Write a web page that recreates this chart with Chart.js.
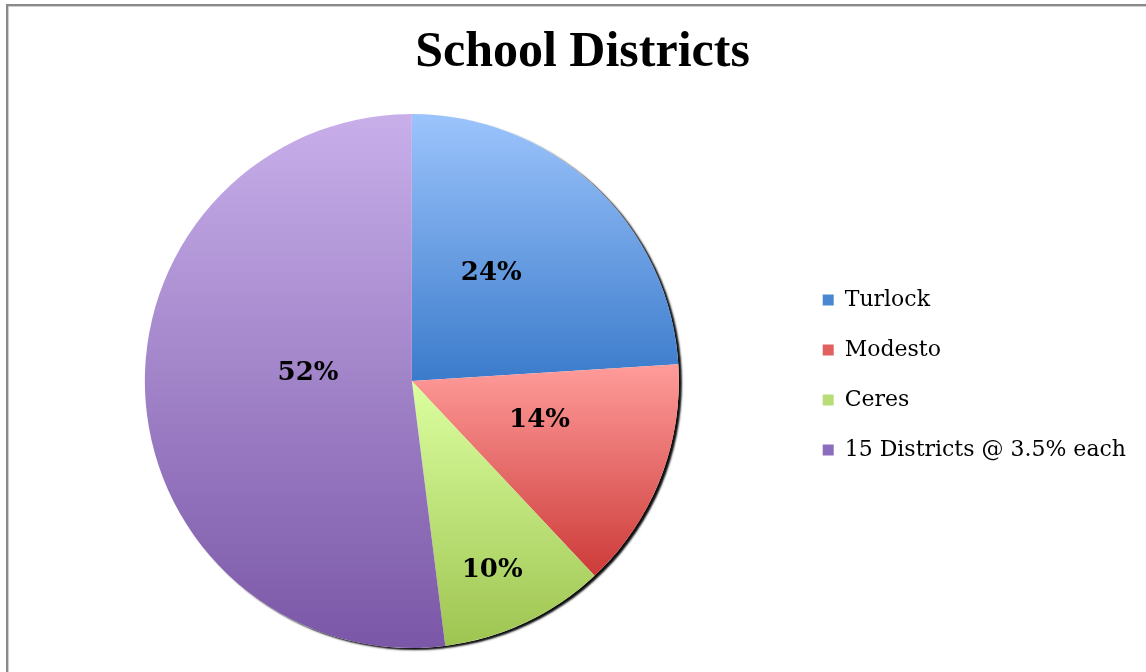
<!DOCTYPE html>
<html>
<head>
<meta charset="utf-8">
<script src="https://cdn.jsdelivr.net/npm/chart.js@4/dist/chart.umd.min.js"></script>
<style>
  html, body { margin: 0; padding: 0; background: #fff; }
  #wrap { position: relative; width: 1146px; height: 672px; overflow: hidden; }
  #frame {
    position: absolute; left: 6px; top: 4px; width: 1200px; height: 800px;
    border-top: 2px solid #8a8a8a; border-left: 2px solid #8a8a8a;
    box-shadow: inset 1px 1px 0 #cfcfcf;
  }
  canvas { position: absolute; left: 0; top: 0; }
</style>
</head>
<body>
<div id="wrap">
  <div id="frame"></div>
  <canvas id="pieChart" width="1146" height="672"></canvas>
</div>
<script>
const districts = ['Turlock', 'Modesto', 'Ceres', '15 Districts @ 3.5% each'];
const shares = [24, 14, 10, 52];

// gradient stops per slice (top colour, bottom colour) and flat legend colour
const topColors = ['#9cc4fc', '#ff9c9a', '#dcffa0', '#c8afea'];
const bottomColors = ['#3b7bcb', '#cc3b39', '#9ec451', '#7a57a7'];
const legendColors = ['#4a86d2', '#e06060', '#b8dc78', '#8c6cbc'];
// where each percentage label sits: fraction of radius, turn off mid-angle (deg)
const labelDist = [0.5, 0.5, 0.77, 0.39];
const labelTurn = [-6.7, -4.6, 2.2, 8];

const total = shares.reduce((a, b) => a + b, 0);

function sliceGradient(ctx) {
  const chart = ctx.chart;
  const area = chart.chartArea;
  if (!area) return legendColors[ctx.dataIndex];
  const i = ctx.dataIndex;
  const cx = (area.left + area.right) / 2;
  const cy = (area.top + area.bottom) / 2;
  const r = Math.min(area.right - area.left, area.bottom - area.top) / 2;
  let before = 0;
  for (let k = 0; k < i; k++) before += shares[k];
  const a0 = -Math.PI / 2 + before / total * Math.PI * 2;
  const a1 = a0 + shares[i] / total * Math.PI * 2;
  let ys = [cy, cy + r * Math.sin(a0), cy + r * Math.sin(a1)];
  // include bottom / top extremes if the slice crosses them
  [Math.PI / 2, -Math.PI / 2, 3 * Math.PI / 2].forEach(a => {
    if (a > a0 && a < a1) ys.push(cy + r * Math.sin(a));
  });
  const y0 = Math.min(...ys), y1 = Math.max(...ys);
  const g = chart.ctx.createLinearGradient(0, y0, 0, y1);
  g.addColorStop(0, topColors[i]);
  g.addColorStop(1, bottomColors[i]);
  return g;
}

const pieShadow = {
  id: 'pieShadow',
  beforeDatasetsDraw(chart) {
    const arc = chart.getDatasetMeta(0).data[0];
    if (!arc) return;
    const ctx = chart.ctx;
    ctx.save();
    ctx.shadowColor = 'rgba(0,0,0,0.95)';
    ctx.shadowBlur = 2;
    ctx.shadowOffsetX = 3;
    ctx.shadowOffsetY = 2;
    ctx.fillStyle = '#fff';
    ctx.beginPath();
    ctx.arc(arc.x, arc.y, arc.outerRadius, 0, Math.PI * 2);
    ctx.fill();
    ctx.restore();
  }
};

const pctLabels = {
  id: 'pctLabels',
  afterDatasetsDraw(chart) {
    const ctx = chart.ctx;
    ctx.save();
    ctx.font = 'bold 26px "DejaVu Serif"';
    ctx.fillStyle = '#000';
    ctx.textAlign = 'center';
    ctx.textBaseline = 'middle';
    chart.getDatasetMeta(0).data.forEach((arc, i) => {
      const mid = (arc.startAngle + arc.endAngle) / 2 + labelTurn[i] * Math.PI / 180;
      const d = arc.outerRadius * labelDist[i];
      ctx.fillText(shares[i] + '%', arc.x + Math.cos(mid) * d, arc.y + Math.sin(mid) * d);
    });
    ctx.restore();
  }
};

new Chart(document.getElementById('pieChart'), {
  type: 'pie',
  data: {
    labels: districts,
    datasets: [{
      data: shares,
      backgroundColor: sliceGradient,
      borderWidth: 0
    }]
  },
  options: {
    responsive: false,
    animation: false,
    events: [],
    layout: { padding: { left: 29, right: 10, top: 0, bottom: 24 } },
    plugins: {
      title: {
        display: true,
        text: 'School Districts',
        color: '#000',
        font: { family: '"Liberation Serif"', size: 50, weight: 'bold' },
        padding: { top: 23, bottom: 31 }
      },
      legend: {
        position: 'right',
        title: {
          display: true,
          text: ' ',
          color: 'rgba(0,0,0,0)',
          font: { size: 10 },
          padding: 45
        },
        labels: {
          color: '#000',
          font: { family: '"DejaVu Serif"', size: 22 },
          boxWidth: 11,
          boxHeight: 11,
          padding: 28,
          generateLabels(chart) {
            return districts.map((d, i) => ({
              text: d,
              fillStyle: legendColors[i],
              strokeStyle: legendColors[i],
              fontColor: '#000',
              lineWidth: 0,
              index: i
            }));
          }
        }
      },
      tooltip: { enabled: false }
    }
  },
  plugins: [pieShadow, pctLabels]
});
</script>
</body>
</html>
